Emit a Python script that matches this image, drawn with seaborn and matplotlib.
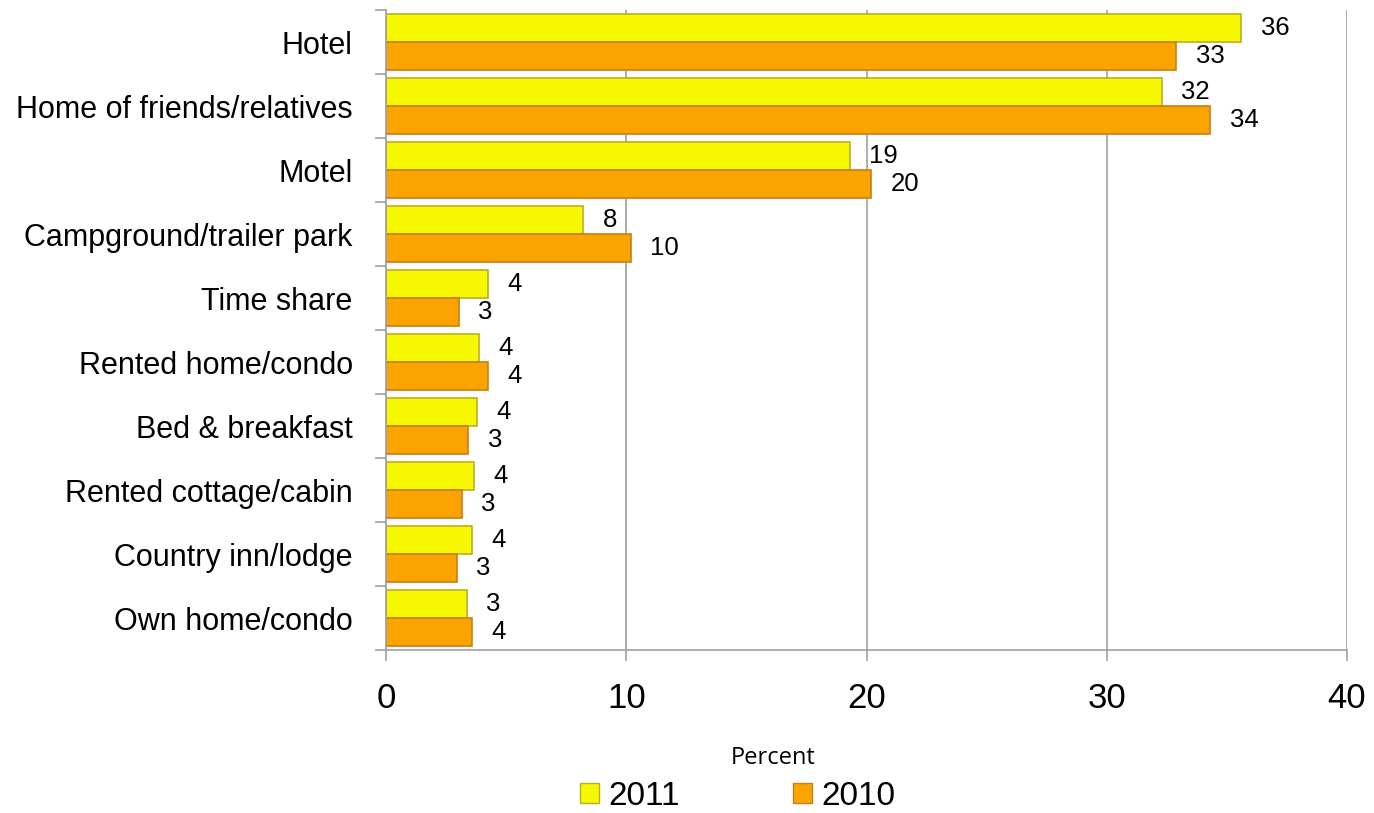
import matplotlib
matplotlib.use("Agg")
import matplotlib.pyplot as plt
import seaborn as sns
import pandas as pd
import numpy as np

categories = ["Hotel", "Home of friends/relatives", "Motel", "Campground/trailer park",
              "Time share", "Rented home/condo", "Bed & breakfast", "Rented cottage/cabin",
              "Country inn/lodge", "Own home/condo"]
values_2011 = [35.6, 32.3, 19.3, 8.2, 4.25, 3.87, 3.77, 3.66, 3.57, 3.37]
values_2010 = [32.9, 34.3, 20.2, 10.2, 3.04, 4.25, 3.42, 3.15, 2.94, 3.58]
series = ["2011", "2010"]
x_ticks = [0, 10, 20, 30, 40]

df = pd.DataFrame({
    "Category": categories * 2,
    "Year": ["2011"] * len(categories) + ["2010"] * len(categories),
    "Percent": values_2011 + values_2010,
})

sns.set_theme(style="white")
plt.rcParams["font.family"] = ["Liberation Sans", "DejaVu Sans"]
plt.rcParams["text.color"] = "black"
plt.rcParams["xtick.color"] = "black"
plt.rcParams["ytick.color"] = "black"
plt.rcParams["xtick.labelcolor"] = "black"
plt.rcParams["ytick.labelcolor"] = "black"

fig = plt.figure(figsize=(13.74, 8.13), dpi=100)
ax = fig.add_axes([386 / 1374, 1 - 650 / 813, (1347 - 386) / 1374, (650 - 10) / 813])

palette = {"2011": "#F7F700", "2010": "#FBA400"}
sns.barplot(data=df, y="Category", x="Percent", hue="Year", hue_order=series,
            order=categories, palette=palette, orient="h", width=0.86,
            saturation=1, ax=ax, legend=True)

edge = {"2011": "#B8B020", "2010": "#C88010"}
for cont, s in zip(ax.containers, series):
    for bar in cont:
        bar.set_edgecolor(edge[s])
        bar.set_linewidth(1.2)
    ax.bar_label(cont, labels=[f"{w:.0f}" for w in cont.datavalues], padding=14,
                 fontsize=18.5, color="black")

ax.set_xlim(0, 40)
ax.set_ylim(len(categories) - 0.5, -0.5)
ax.set_xticks(x_ticks)
ax.set_xticklabels([str(t) for t in x_ticks], fontsize=25)
ax.set_yticks(range(len(categories)))
ax.set_yticklabels(categories, fontsize=22)
ax.set_yticks(np.arange(-0.5, len(categories), 1), minor=True)
ax.tick_params(axis="y", which="major", left=True, length=0, pad=24)
ax.tick_params(axis="y", which="minor", left=True, length=8, width=1.2,
               color="#A0A0A0", direction="out")
ax.tick_params(axis="x", which="major", bottom=True, length=8, width=1.2,
               color="#A0A0A0", direction="out", pad=15)
ax.set_xlabel("")
ax.set_ylabel("")
ax.grid(axis="x", color="#A0A0A0", linewidth=1.2)
ax.set_axisbelow(True)
for side in ["top", "right"]:
    ax.spines[side].set_visible(False)
for side in ["left", "bottom"]:
    ax.spines[side].set_color("#A0A0A0")
    ax.spines[side].set_linewidth(1.2)

handles, labels = ax.get_legend_handles_labels()
ax.get_legend().remove()
for h, s in zip(handles, series):
    h.set_edgecolor(edge[s])
leg = fig.legend(handles, labels, loc="center", bbox_to_anchor=(738 / 1374, 1 - 796 / 813),
                 ncol=2, frameon=False, fontsize=24, handlelength=0.55, handleheight=0.55,
                 handletextpad=0.3, columnspacing=3.4, borderpad=0)
for t in leg.get_texts():
    t.set_color("black")

fig.text(773 / 1374, 1 - 758 / 813, "Percent", ha="center", va="center",
         fontsize=17, color="black", family=["Open Sans", "DejaVu Sans"])

fig.savefig("out.png", dpi=100)
